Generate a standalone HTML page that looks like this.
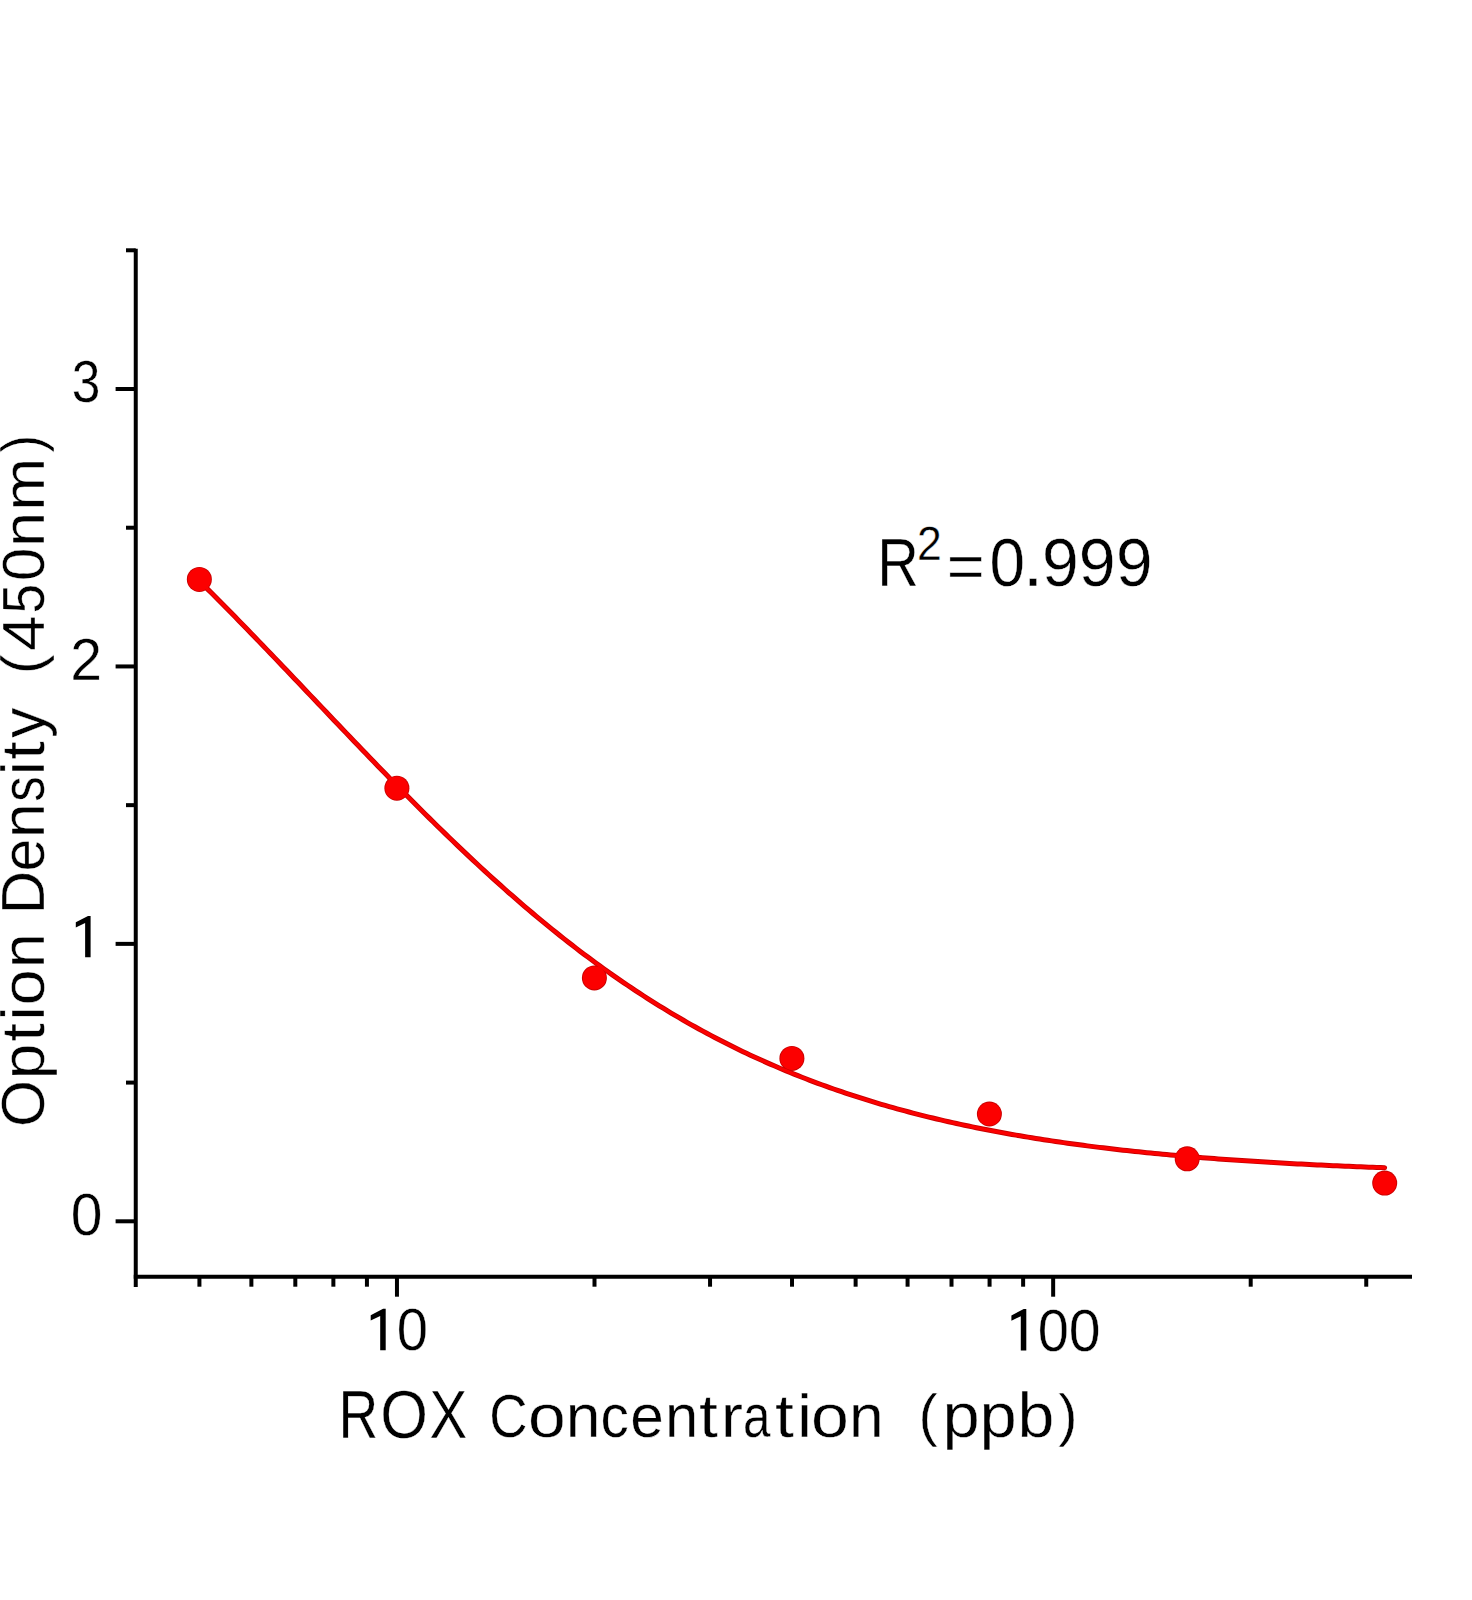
<!DOCTYPE html><html><head><meta charset="utf-8"><style>html,body{margin:0;padding:0;background:#fff;}svg{display:block}text{font-family:"Liberation Sans",sans-serif;fill:#000;stroke:#fff;stroke-width:0.4px}</style></head><body>
<svg width="1472" height="1600" viewBox="0 0 1472 1600">
<g stroke="#000" stroke-width="4" fill="none">
<line x1="135.75" y1="248.7" x2="135.75" y2="1286.9"/>
<line x1="133.75" y1="1276.8" x2="1412" y2="1276.8"/>
<line x1="115.6" y1="1221.30" x2="135.75" y2="1221.30"/>
<line x1="115.6" y1="943.87" x2="135.75" y2="943.87"/>
<line x1="115.6" y1="666.44" x2="135.75" y2="666.44"/>
<line x1="115.6" y1="389.01" x2="135.75" y2="389.01"/>
<line x1="126" y1="1082.59" x2="135.75" y2="1082.59"/>
<line x1="126" y1="805.15" x2="135.75" y2="805.15"/>
<line x1="126" y1="527.72" x2="135.75" y2="527.72"/>
<line x1="126" y1="250.29" x2="135.75" y2="250.29"/>
<line x1="396.96" y1="1276.8" x2="396.96" y2="1296.7"/>
<line x1="1053.16" y1="1276.8" x2="1053.16" y2="1296.7"/>
<line x1="199.42" y1="1276.8" x2="199.42" y2="1286.7"/>
<line x1="251.38" y1="1276.8" x2="251.38" y2="1286.7"/>
<line x1="295.31" y1="1276.8" x2="295.31" y2="1286.7"/>
<line x1="333.37" y1="1276.8" x2="333.37" y2="1286.7"/>
<line x1="366.93" y1="1276.8" x2="366.93" y2="1286.7"/>
<line x1="594.50" y1="1276.8" x2="594.50" y2="1286.7"/>
<line x1="710.05" y1="1276.8" x2="710.05" y2="1286.7"/>
<line x1="792.03" y1="1276.8" x2="792.03" y2="1286.7"/>
<line x1="855.62" y1="1276.8" x2="855.62" y2="1286.7"/>
<line x1="907.58" y1="1276.8" x2="907.58" y2="1286.7"/>
<line x1="951.51" y1="1276.8" x2="951.51" y2="1286.7"/>
<line x1="989.57" y1="1276.8" x2="989.57" y2="1286.7"/>
<line x1="1023.13" y1="1276.8" x2="1023.13" y2="1286.7"/>
<line x1="1250.70" y1="1276.8" x2="1250.70" y2="1286.7"/>
<line x1="1366.25" y1="1276.8" x2="1366.25" y2="1286.7"/>
</g>
<polyline points="199.42,580.99 203.39,584.92 207.35,588.86 211.32,592.82 215.28,596.79 219.24,600.78 223.21,604.78 227.17,608.80 231.14,612.83 235.10,616.87 239.06,620.93 243.03,624.99 246.99,629.07 250.96,633.16 254.92,637.26 258.88,641.37 262.85,645.49 266.81,649.61 270.77,653.74 274.74,657.89 278.70,662.03 282.67,666.18 286.63,670.34 290.59,674.51 294.56,678.67 298.52,682.84 302.49,687.01 306.45,691.19 310.41,695.36 314.38,699.54 318.34,703.72 322.31,707.89 326.27,712.07 330.23,716.24 334.20,720.41 338.16,724.58 342.13,728.74 346.09,732.90 350.05,737.05 354.02,741.20 357.98,745.34 361.95,749.48 365.91,753.60 369.87,757.72 373.84,761.83 377.80,765.93 381.76,770.02 385.73,774.10 389.69,778.17 393.66,782.23 397.62,786.28 401.58,790.31 405.55,794.33 409.51,798.33 413.48,802.32 417.44,806.30 421.40,810.26 425.37,814.20 429.33,818.13 433.30,822.04 437.26,825.93 441.22,829.81 445.19,833.66 449.15,837.50 453.12,841.32 457.08,845.12 461.04,848.89 465.01,852.65 468.97,856.39 472.94,860.10 476.90,863.79 480.86,867.46 484.83,871.11 488.79,874.74 492.75,878.34 496.72,881.92 500.68,885.47 504.65,889.00 508.61,892.51 512.57,895.99 516.54,899.44 520.50,902.87 524.47,906.28 528.43,909.66 532.39,913.01 536.36,916.33 540.32,919.63 544.29,922.91 548.25,926.16 552.21,929.38 556.18,932.57 560.14,935.73 564.11,938.87 568.07,941.98 572.03,945.07 576.00,948.12 579.96,951.15 583.93,954.15 587.89,957.12 591.85,960.06 595.82,962.98 599.78,965.87 603.75,968.72 607.71,971.56 611.67,974.36 615.64,977.13 619.60,979.88 623.56,982.60 627.53,985.29 631.49,987.95 635.46,990.58 639.42,993.19 643.38,995.77 647.35,998.32 651.31,1000.84 655.28,1003.33 659.24,1005.80 663.20,1008.24 667.17,1010.65 671.13,1013.03 675.10,1015.39 679.06,1017.72 683.02,1020.02 686.99,1022.30 690.95,1024.55 694.92,1026.77 698.88,1028.96 702.84,1031.13 706.81,1033.27 710.77,1035.39 714.74,1037.48 718.70,1039.54 722.66,1041.58 726.63,1043.59 730.59,1045.58 734.55,1047.54 738.52,1049.48 742.48,1051.40 746.45,1053.28 750.41,1055.15 754.37,1056.99 758.34,1058.80 762.30,1060.59 766.27,1062.36 770.23,1064.11 774.19,1065.83 778.16,1067.53 782.12,1069.20 786.09,1070.85 790.05,1072.48 794.01,1074.09 797.98,1075.68 801.94,1077.24 805.91,1078.79 809.87,1080.31 813.83,1081.81 817.80,1083.29 821.76,1084.74 825.73,1086.18 829.69,1087.60 833.65,1089.00 837.62,1090.38 841.58,1091.73 845.54,1093.07 849.51,1094.39 853.47,1095.69 857.44,1096.97 861.40,1098.23 865.36,1099.48 869.33,1100.71 873.29,1101.91 877.26,1103.10 881.22,1104.28 885.18,1105.43 889.15,1106.57 893.11,1107.69 897.08,1108.80 901.04,1109.89 905.00,1110.96 908.97,1112.01 912.93,1113.05 916.90,1114.08 920.86,1115.09 924.82,1116.08 928.79,1117.06 932.75,1118.02 936.72,1118.97 940.68,1119.90 944.64,1120.82 948.61,1121.73 952.57,1122.62 956.53,1123.50 960.50,1124.36 964.46,1125.21 968.43,1126.05 972.39,1126.88 976.35,1127.69 980.32,1128.49 984.28,1129.27 988.25,1130.05 992.21,1130.81 996.17,1131.56 1000.14,1132.30 1004.10,1133.02 1008.07,1133.74 1012.03,1134.44 1015.99,1135.13 1019.96,1135.82 1023.92,1136.49 1027.89,1137.15 1031.85,1137.80 1035.81,1138.43 1039.78,1139.06 1043.74,1139.68 1047.71,1140.29 1051.67,1140.89 1055.63,1141.48 1059.60,1142.06 1063.56,1142.63 1067.52,1143.19 1071.49,1143.74 1075.45,1144.28 1079.42,1144.82 1083.38,1145.34 1087.34,1145.86 1091.31,1146.37 1095.27,1146.87 1099.24,1147.36 1103.20,1147.85 1107.16,1148.32 1111.13,1148.79 1115.09,1149.25 1119.06,1149.70 1123.02,1150.15 1126.98,1150.59 1130.95,1151.02 1134.91,1151.44 1138.88,1151.86 1142.84,1152.27 1146.80,1152.67 1150.77,1153.07 1154.73,1153.46 1158.70,1153.84 1162.66,1154.22 1166.62,1154.59 1170.59,1154.96 1174.55,1155.32 1178.52,1155.67 1182.48,1156.02 1186.44,1156.36 1190.41,1156.69 1194.37,1157.02 1198.33,1157.35 1202.30,1157.67 1206.26,1157.98 1210.23,1158.29 1214.19,1158.59 1218.15,1158.89 1222.12,1159.18 1226.08,1159.47 1230.05,1159.75 1234.01,1160.03 1237.97,1160.31 1241.94,1160.58 1245.90,1160.84 1249.87,1161.10 1253.83,1161.36 1257.79,1161.61 1261.76,1161.86 1265.72,1162.10 1269.69,1162.34 1273.65,1162.57 1277.61,1162.80 1281.58,1163.03 1285.54,1163.25 1289.51,1163.47 1293.47,1163.69 1297.43,1163.90 1301.40,1164.11 1305.36,1164.32 1309.32,1164.52 1313.29,1164.72 1317.25,1164.91 1321.22,1165.10 1325.18,1165.29 1329.14,1165.48 1333.11,1165.66 1337.07,1165.84 1341.04,1166.01 1345.00,1166.18 1348.96,1166.35 1352.93,1166.52 1356.89,1166.69 1360.86,1166.85 1364.82,1167.00 1368.78,1167.16 1372.75,1167.31 1376.71,1167.46 1380.68,1167.61 1384.64,1167.76" fill="none" stroke="#c80000" stroke-width="5.0" stroke-linecap="round" stroke-linejoin="round"/>
<circle cx="199.35" cy="579.45" r="12.5" fill="#c80000"/>
<circle cx="396.9" cy="788.2" r="12.5" fill="#c80000"/>
<circle cx="594.4" cy="977.9" r="12.5" fill="#c80000"/>
<circle cx="791.9" cy="1058.4" r="12.5" fill="#c80000"/>
<circle cx="989.4" cy="1114" r="12.5" fill="#c80000"/>
<circle cx="1187.2" cy="1158.8" r="12.5" fill="#c80000"/>
<circle cx="1384.7" cy="1183.1" r="12.5" fill="#c80000"/>
<polyline points="199.42,580.99 203.39,584.92 207.35,588.86 211.32,592.82 215.28,596.79 219.24,600.78 223.21,604.78 227.17,608.80 231.14,612.83 235.10,616.87 239.06,620.93 243.03,624.99 246.99,629.07 250.96,633.16 254.92,637.26 258.88,641.37 262.85,645.49 266.81,649.61 270.77,653.74 274.74,657.89 278.70,662.03 282.67,666.18 286.63,670.34 290.59,674.51 294.56,678.67 298.52,682.84 302.49,687.01 306.45,691.19 310.41,695.36 314.38,699.54 318.34,703.72 322.31,707.89 326.27,712.07 330.23,716.24 334.20,720.41 338.16,724.58 342.13,728.74 346.09,732.90 350.05,737.05 354.02,741.20 357.98,745.34 361.95,749.48 365.91,753.60 369.87,757.72 373.84,761.83 377.80,765.93 381.76,770.02 385.73,774.10 389.69,778.17 393.66,782.23 397.62,786.28 401.58,790.31 405.55,794.33 409.51,798.33 413.48,802.32 417.44,806.30 421.40,810.26 425.37,814.20 429.33,818.13 433.30,822.04 437.26,825.93 441.22,829.81 445.19,833.66 449.15,837.50 453.12,841.32 457.08,845.12 461.04,848.89 465.01,852.65 468.97,856.39 472.94,860.10 476.90,863.79 480.86,867.46 484.83,871.11 488.79,874.74 492.75,878.34 496.72,881.92 500.68,885.47 504.65,889.00 508.61,892.51 512.57,895.99 516.54,899.44 520.50,902.87 524.47,906.28 528.43,909.66 532.39,913.01 536.36,916.33 540.32,919.63 544.29,922.91 548.25,926.16 552.21,929.38 556.18,932.57 560.14,935.73 564.11,938.87 568.07,941.98 572.03,945.07 576.00,948.12 579.96,951.15 583.93,954.15 587.89,957.12 591.85,960.06 595.82,962.98 599.78,965.87 603.75,968.72 607.71,971.56 611.67,974.36 615.64,977.13 619.60,979.88 623.56,982.60 627.53,985.29 631.49,987.95 635.46,990.58 639.42,993.19 643.38,995.77 647.35,998.32 651.31,1000.84 655.28,1003.33 659.24,1005.80 663.20,1008.24 667.17,1010.65 671.13,1013.03 675.10,1015.39 679.06,1017.72 683.02,1020.02 686.99,1022.30 690.95,1024.55 694.92,1026.77 698.88,1028.96 702.84,1031.13 706.81,1033.27 710.77,1035.39 714.74,1037.48 718.70,1039.54 722.66,1041.58 726.63,1043.59 730.59,1045.58 734.55,1047.54 738.52,1049.48 742.48,1051.40 746.45,1053.28 750.41,1055.15 754.37,1056.99 758.34,1058.80 762.30,1060.59 766.27,1062.36 770.23,1064.11 774.19,1065.83 778.16,1067.53 782.12,1069.20 786.09,1070.85 790.05,1072.48 794.01,1074.09 797.98,1075.68 801.94,1077.24 805.91,1078.79 809.87,1080.31 813.83,1081.81 817.80,1083.29 821.76,1084.74 825.73,1086.18 829.69,1087.60 833.65,1089.00 837.62,1090.38 841.58,1091.73 845.54,1093.07 849.51,1094.39 853.47,1095.69 857.44,1096.97 861.40,1098.23 865.36,1099.48 869.33,1100.71 873.29,1101.91 877.26,1103.10 881.22,1104.28 885.18,1105.43 889.15,1106.57 893.11,1107.69 897.08,1108.80 901.04,1109.89 905.00,1110.96 908.97,1112.01 912.93,1113.05 916.90,1114.08 920.86,1115.09 924.82,1116.08 928.79,1117.06 932.75,1118.02 936.72,1118.97 940.68,1119.90 944.64,1120.82 948.61,1121.73 952.57,1122.62 956.53,1123.50 960.50,1124.36 964.46,1125.21 968.43,1126.05 972.39,1126.88 976.35,1127.69 980.32,1128.49 984.28,1129.27 988.25,1130.05 992.21,1130.81 996.17,1131.56 1000.14,1132.30 1004.10,1133.02 1008.07,1133.74 1012.03,1134.44 1015.99,1135.13 1019.96,1135.82 1023.92,1136.49 1027.89,1137.15 1031.85,1137.80 1035.81,1138.43 1039.78,1139.06 1043.74,1139.68 1047.71,1140.29 1051.67,1140.89 1055.63,1141.48 1059.60,1142.06 1063.56,1142.63 1067.52,1143.19 1071.49,1143.74 1075.45,1144.28 1079.42,1144.82 1083.38,1145.34 1087.34,1145.86 1091.31,1146.37 1095.27,1146.87 1099.24,1147.36 1103.20,1147.85 1107.16,1148.32 1111.13,1148.79 1115.09,1149.25 1119.06,1149.70 1123.02,1150.15 1126.98,1150.59 1130.95,1151.02 1134.91,1151.44 1138.88,1151.86 1142.84,1152.27 1146.80,1152.67 1150.77,1153.07 1154.73,1153.46 1158.70,1153.84 1162.66,1154.22 1166.62,1154.59 1170.59,1154.96 1174.55,1155.32 1178.52,1155.67 1182.48,1156.02 1186.44,1156.36 1190.41,1156.69 1194.37,1157.02 1198.33,1157.35 1202.30,1157.67 1206.26,1157.98 1210.23,1158.29 1214.19,1158.59 1218.15,1158.89 1222.12,1159.18 1226.08,1159.47 1230.05,1159.75 1234.01,1160.03 1237.97,1160.31 1241.94,1160.58 1245.90,1160.84 1249.87,1161.10 1253.83,1161.36 1257.79,1161.61 1261.76,1161.86 1265.72,1162.10 1269.69,1162.34 1273.65,1162.57 1277.61,1162.80 1281.58,1163.03 1285.54,1163.25 1289.51,1163.47 1293.47,1163.69 1297.43,1163.90 1301.40,1164.11 1305.36,1164.32 1309.32,1164.52 1313.29,1164.72 1317.25,1164.91 1321.22,1165.10 1325.18,1165.29 1329.14,1165.48 1333.11,1165.66 1337.07,1165.84 1341.04,1166.01 1345.00,1166.18 1348.96,1166.35 1352.93,1166.52 1356.89,1166.69 1360.86,1166.85 1364.82,1167.00 1368.78,1167.16 1372.75,1167.31 1376.71,1167.46 1380.68,1167.61 1384.64,1167.76" fill="none" stroke="#fc0000" stroke-width="3.2" stroke-linecap="round" stroke-linejoin="round"/>
<circle cx="199.35" cy="579.45" r="11.6" fill="#fc0000"/>
<circle cx="396.9" cy="788.2" r="11.6" fill="#fc0000"/>
<circle cx="594.4" cy="977.9" r="11.6" fill="#fc0000"/>
<circle cx="791.9" cy="1058.4" r="11.6" fill="#fc0000"/>
<circle cx="989.4" cy="1114" r="11.6" fill="#fc0000"/>
<circle cx="1187.2" cy="1158.8" r="11.6" fill="#fc0000"/>
<circle cx="1384.7" cy="1183.1" r="11.6" fill="#fc0000"/>
<text x="70.79" y="1234.72" font-size="58.43" textLength="31.71" lengthAdjust="spacingAndGlyphs">0</text>
<path d="M90.60,957.20 L90.60,915.90 L88.00,915.90 L75.80,922.34 L75.80,927.46 L85.13,923.00 L85.13,957.20 Z" fill="#000"/>
<text x="70.22" y="679.60" font-size="58.65" textLength="31.81" lengthAdjust="spacingAndGlyphs">2</text>
<text x="71.80" y="401.95" font-size="58.92" textLength="28.63" lengthAdjust="spacingAndGlyphs">3</text>
<path d="M385.70,1350.30 L385.70,1308.80 L383.10,1308.80 L370.70,1315.27 L370.70,1320.42 L380.20,1315.94 L380.20,1350.30 Z" fill="#000"/>
<text x="396.86" y="1350.41" font-size="58.90" textLength="31.25" lengthAdjust="spacingAndGlyphs">0</text>
<path d="M1026.30,1350.60 L1026.30,1309.00 L1023.70,1309.00 L1011.40,1315.49 L1011.40,1320.65 L1020.79,1316.16 L1020.79,1350.60 Z" fill="#000"/>
<text x="1037.84" y="1350.63" font-size="59.19" textLength="31.12" lengthAdjust="spacingAndGlyphs">0</text>
<text x="1068.87" y="1350.63" font-size="59.19" textLength="31.82" lengthAdjust="spacingAndGlyphs">0</text>
<text x="338.39" y="1437.80" font-size="69.32" textLength="39.73" lengthAdjust="spacingAndGlyphs">R</text>
<text x="380.17" y="1437.80" font-size="69.32" textLength="47.72" lengthAdjust="spacingAndGlyphs">O</text>
<text x="429.50" y="1437.80" font-size="69.32" textLength="37.67" lengthAdjust="spacingAndGlyphs">X</text>
<text x="489.18" y="1437.00" font-size="61.91" textLength="38.35" lengthAdjust="spacingAndGlyphs">C</text>
<text x="528.12" y="1437.00" font-size="61.91" textLength="37.71" lengthAdjust="spacingAndGlyphs">o</text>
<text x="565.76" y="1437.00" font-size="61.91" textLength="34.68" lengthAdjust="spacingAndGlyphs">n</text>
<text x="600.48" y="1437.00" font-size="61.91" textLength="28.37" lengthAdjust="spacingAndGlyphs">c</text>
<text x="630.30" y="1437.00" font-size="61.91" textLength="33.63" lengthAdjust="spacingAndGlyphs">e</text>
<text x="664.91" y="1437.00" font-size="61.91" textLength="33.20" lengthAdjust="spacingAndGlyphs">n</text>
<text x="698.93" y="1437.00" font-size="61.91" textLength="18.92" lengthAdjust="spacingAndGlyphs">t</text>
<text x="720.68" y="1437.00" font-size="61.91" textLength="22.28" lengthAdjust="spacingAndGlyphs">r</text>
<text x="742.93" y="1437.00" font-size="61.91" textLength="27.42" lengthAdjust="spacingAndGlyphs">a</text>
<text x="774.92" y="1437.00" font-size="61.91" textLength="18.92" lengthAdjust="spacingAndGlyphs">t</text>
<text x="796.99" y="1437.00" font-size="61.91" textLength="15.14" lengthAdjust="spacingAndGlyphs">i</text>
<text x="811.13" y="1437.00" font-size="61.91" textLength="37.86" lengthAdjust="spacingAndGlyphs">o</text>
<text x="848.91" y="1437.00" font-size="61.91" textLength="34.65" lengthAdjust="spacingAndGlyphs">n</text>
<text x="918.51" y="1435.00" font-size="58.03" textLength="19.27" lengthAdjust="spacingAndGlyphs">(</text>
<text x="942.62" y="1437.41" font-size="63.56" textLength="37.21" lengthAdjust="spacingAndGlyphs">p</text>
<text x="979.62" y="1437.41" font-size="63.56" textLength="37.21" lengthAdjust="spacingAndGlyphs">p</text>
<text x="1017.60" y="1437.41" font-size="63.56" textLength="36.83" lengthAdjust="spacingAndGlyphs">b</text>
<text x="1058.21" y="1435.00" font-size="58.03" textLength="19.29" lengthAdjust="spacingAndGlyphs">)</text>
<text x="44.50" y="1127.02" font-size="60.51" textLength="46.79" lengthAdjust="spacingAndGlyphs" transform="rotate(-90 44.50 1127.02)">O</text>
<text x="44.50" y="1079.19" font-size="60.51" textLength="35.79" lengthAdjust="spacingAndGlyphs" transform="rotate(-90 44.50 1079.19)">p</text>
<text x="44.50" y="1041.87" font-size="60.51" textLength="18.49" lengthAdjust="spacingAndGlyphs" transform="rotate(-90 44.50 1041.87)">t</text>
<text x="44.50" y="1020.80" font-size="60.51" textLength="14.80" lengthAdjust="spacingAndGlyphs" transform="rotate(-90 44.50 1020.80)">i</text>
<text x="44.50" y="1005.56" font-size="60.51" textLength="36.31" lengthAdjust="spacingAndGlyphs" transform="rotate(-90 44.50 1005.56)">o</text>
<text x="44.50" y="967.92" font-size="60.51" textLength="34.92" lengthAdjust="spacingAndGlyphs" transform="rotate(-90 44.50 967.92)">n</text>
<text x="44.50" y="914.31" font-size="60.55" textLength="43.28" lengthAdjust="spacingAndGlyphs" transform="rotate(-90 44.50 914.31)">D</text>
<text x="44.50" y="871.42" font-size="60.55" textLength="32.97" lengthAdjust="spacingAndGlyphs" transform="rotate(-90 44.50 871.42)">e</text>
<text x="44.50" y="837.92" font-size="60.55" textLength="34.90" lengthAdjust="spacingAndGlyphs" transform="rotate(-90 44.50 837.92)">n</text>
<text x="44.50" y="801.73" font-size="60.55" textLength="25.47" lengthAdjust="spacingAndGlyphs" transform="rotate(-90 44.50 801.73)">s</text>
<text x="44.50" y="775.58" font-size="60.55" textLength="14.80" lengthAdjust="spacingAndGlyphs" transform="rotate(-90 44.50 775.58)">i</text>
<text x="44.50" y="759.64" font-size="60.55" textLength="18.51" lengthAdjust="spacingAndGlyphs" transform="rotate(-90 44.50 759.64)">t</text>
<text x="44.50" y="737.96" font-size="60.55" textLength="30.30" lengthAdjust="spacingAndGlyphs" transform="rotate(-90 44.50 737.96)">y</text>
<text x="42.30" y="674.24" font-size="58.03" textLength="19.77" lengthAdjust="spacingAndGlyphs" transform="rotate(-90 42.30 674.24)">(</text>
<text x="44.50" y="650.92" font-size="60.10" textLength="35.67" lengthAdjust="spacingAndGlyphs" transform="rotate(-90 44.50 650.92)">4</text>
<text x="44.50" y="613.61" font-size="60.10" textLength="29.75" lengthAdjust="spacingAndGlyphs" transform="rotate(-90 44.50 613.61)">5</text>
<text x="44.50" y="580.92" font-size="60.10" textLength="33.26" lengthAdjust="spacingAndGlyphs" transform="rotate(-90 44.50 580.92)">0</text>
<text x="44.50" y="546.95" font-size="60.10" textLength="35.06" lengthAdjust="spacingAndGlyphs" transform="rotate(-90 44.50 546.95)">n</text>
<text x="44.50" y="510.87" font-size="60.10" textLength="52.92" lengthAdjust="spacingAndGlyphs" transform="rotate(-90 44.50 510.87)">m</text>
<text x="42.30" y="452.51" font-size="58.03" textLength="17.66" lengthAdjust="spacingAndGlyphs" transform="rotate(-90 42.30 452.51)">)</text>
<text x="877.33" y="585.90" font-size="67.91" textLength="41.61" lengthAdjust="spacingAndGlyphs">R</text>
<text x="916.97" y="560.20" font-size="48.24" textLength="24.81" lengthAdjust="spacingAndGlyphs">2</text>
<text x="946.83" y="586.60" font-size="60.27" textLength="37.87" lengthAdjust="spacingAndGlyphs">=</text>
<text x="989.54" y="585.65" font-size="69.06" textLength="35.52" lengthAdjust="spacingAndGlyphs">0</text>
<text x="1022.46" y="585.65" font-size="69.06" textLength="21.11" lengthAdjust="spacingAndGlyphs">.</text>
<text x="1041.96" y="585.65" font-size="69.06" textLength="36.67" lengthAdjust="spacingAndGlyphs">9</text>
<text x="1078.76" y="585.65" font-size="69.06" textLength="36.83" lengthAdjust="spacingAndGlyphs">9</text>
<text x="1116.02" y="585.65" font-size="69.06" textLength="36.53" lengthAdjust="spacingAndGlyphs">9</text>
</svg></body></html>
